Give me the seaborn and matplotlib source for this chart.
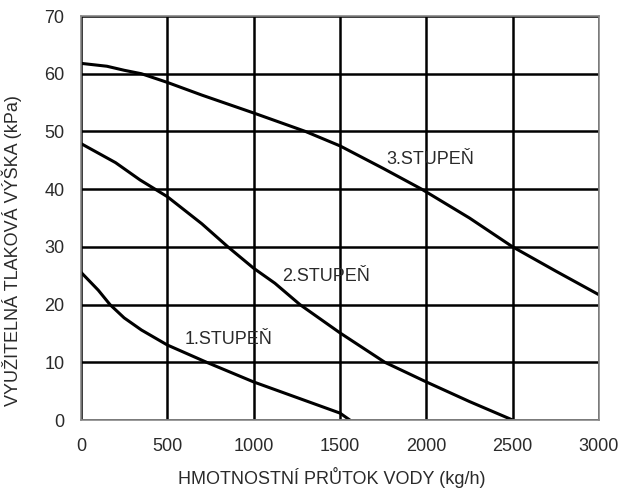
import pandas as pd
import matplotlib.pyplot as plt
import seaborn as sns

# hodnoty
x1 = [0, 100, 168, 250, 350, 500, 728, 1000, 1250, 1500, 1557]
y1 = [25.6, 22.5, 20.0, 17.7, 15.6, 13.0, 10.0, 6.6, 3.9, 1.2, 0]

x2 = [0, 200, 342, 500, 700, 851, 1000, 1123, 1268, 1500, 1760, 2000, 2250, 2500]
y2 = [47.9, 44.6, 41.6, 38.7, 34.0, 30.0, 26.3, 23.7, 20.0, 15.1, 10.0, 6.6, 3.2, 0]

x3 = [0, 150, 250, 350, 500, 700, 1000, 1300, 1500, 1750, 1973, 2250, 2500, 2750, 3000]
y3 = [61.8, 61.3, 60.6, 60.0, 58.5, 56.3, 53.2, 50.0, 47.5, 43.6, 40.0, 35.0, 30.0, 25.8, 21.7]

labels = ['1.STUPEŇ', '2.STUPEŇ', '3.STUPEŇ']
label_x = [602, 1162, 1766]
label_y = [13.9, 24.8, 45.1]

df = pd.concat([
    pd.DataFrame({'x': x1, 'y': y1, 'stupen': labels[0]}),
    pd.DataFrame({'x': x2, 'y': y2, 'stupen': labels[1]}),
    pd.DataFrame({'x': x3, 'y': y3, 'stupen': labels[2]}),
])

sns.set_style('white')
plt.rcParams['font.family'] = ['Liberation Sans', 'DejaVu Sans']

fig = plt.figure(figsize=(6.23, 4.93), dpi=100)
ax = fig.add_axes([0.130, 0.148, 0.8315, 0.8195])

sns.lineplot(data=df, x='x', y='y', units='stupen', estimator=None,
             color='black', linewidth=2.2, sort=False, ax=ax, legend=False)

txt = '#2a2a2a'
for t, tx, ty in zip(labels, label_x, label_y):
    ax.text(tx, ty, t, fontsize=13, va='center', ha='left', color=txt)

ax.set_xlim(0, 3000)
ax.set_ylim(0, 70)
ax.set_xticks(range(0, 3001, 500))
ax.set_yticks(range(0, 71, 10))
ax.grid(True, color='black', linewidth=1.8)
ax.set_axisbelow(True)
for s in ax.spines.values():
    s.set_color('#888888')
    s.set_linewidth(1.2)
ax.tick_params(length=0, labelsize=13, colors=txt)
ax.tick_params(axis='x', pad=13)
ax.tick_params(axis='y', pad=12)
ax.set_xlabel('HMOTNOSTNÍ PRŮTOK VODY (kg/h)', fontsize=13, color=txt)
ax.set_ylabel('VYUŽITELNÁ TLAKOVÁ VÝŠKA (kPa)', fontsize=13, color=txt)
ax.xaxis.set_label_coords(0.4846, -0.116)
ax.yaxis.set_label_coords(-0.114, 0.42)

fig.savefig('out.png', dpi=100)
